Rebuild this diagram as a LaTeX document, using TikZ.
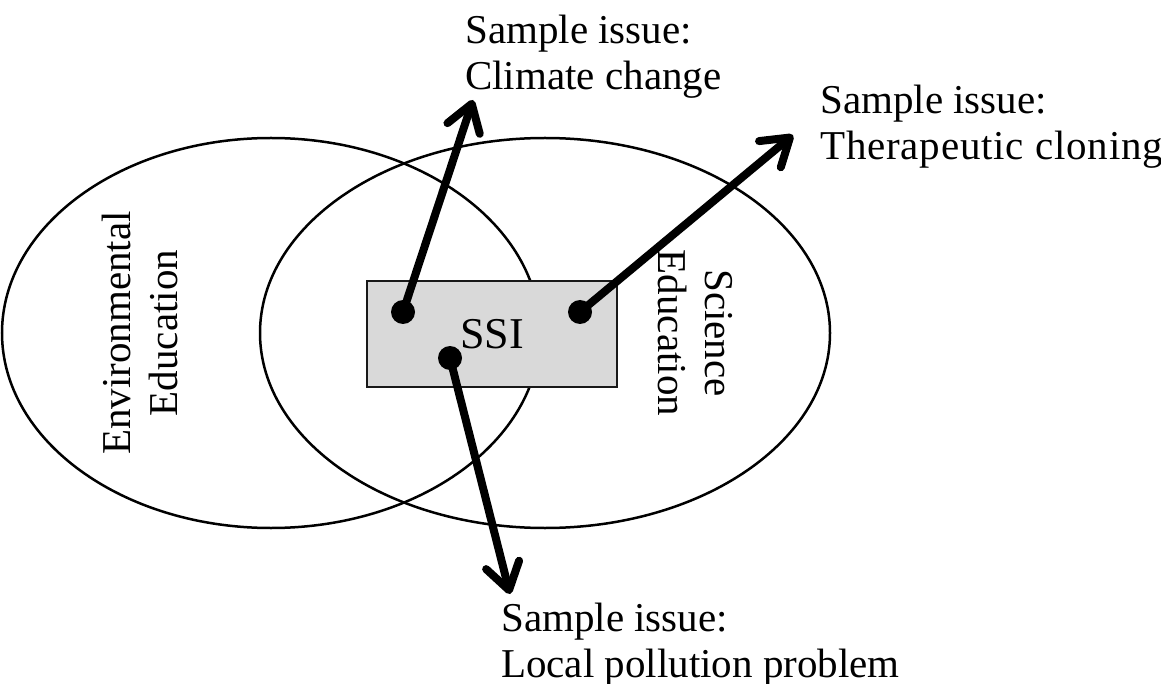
\documentclass[tikz,border=0pt]{standalone}
\usepackage{fontspec}
\setmainfont{Liberation Serif}
\usetikzlibrary{arrows.meta}
\definecolor{boxgray}{HTML}{D9D9D9}
\tikzset{
  ring/.style={draw=black, line width=2.5pt},
  label/.style={inner sep=0pt, align=left, anchor=north west, font=\fontsize{41}{46}\selectfont},
  sidelabel/.style={inner sep=0pt, align=center, font=\fontsize{41}{47}\selectfont},
  dotnode/.style={circle, fill=black, inner sep=0pt, minimum size=24pt},
  issuearrow/.style={line width=8pt, line cap=round,
    -{Straight Barb[length=26pt, width=34pt, line cap=round, line join=round]}},
}
\begin{document}
\begin{tikzpicture}[x=1pt, y=-1pt]
\useasboundingbox (0,0) rectangle (1161,684);
% ellipses
\draw[ring] (271,333) ellipse [x radius=269, y radius=195];
\draw[ring] (545,333) ellipse [x radius=285, y radius=195];
% SSI box
\node[draw=black!90, fill=boxgray, line width=2.5pt, minimum width=250pt, minimum height=106pt,
      inner sep=0pt, font=\fontsize{44}{48}\selectfont] (ssi) at (492,334) {SSI};
% side labels
\node[sidelabel, rotate=90] (env) at (140,333) {Environmental\\Education};
\node[sidelabel, rotate=-90] (sci) at (695,333) {Science\\Education};
% issue labels
\node[label] (climate) at (465,15) {Sample issue:\\Climate change};
\node[label] (thera) at (820,85) {Sample issue:\\{\addfontfeature{LetterSpace=2}Therapeutic cloning}};
\node[label] (local) at (501,603) {Sample issue:\\Local pollution problem};
% arrow tips
\coordinate (t1) at (473,100);
\coordinate (t2) at (793,135);
\coordinate (t3) at (510,594);
% dots
\node[dotnode] (d1) at (403,312) {};
\node[dotnode] (d2) at (580,312) {};
\node[dotnode] (d3) at (450,358) {};
% arrows
\draw[issuearrow] (d1.center) -- (t1);
\draw[issuearrow] (d2.center) -- (t2);
\draw[issuearrow] (d3.center) -- (t3);
\end{tikzpicture}
\end{document}
